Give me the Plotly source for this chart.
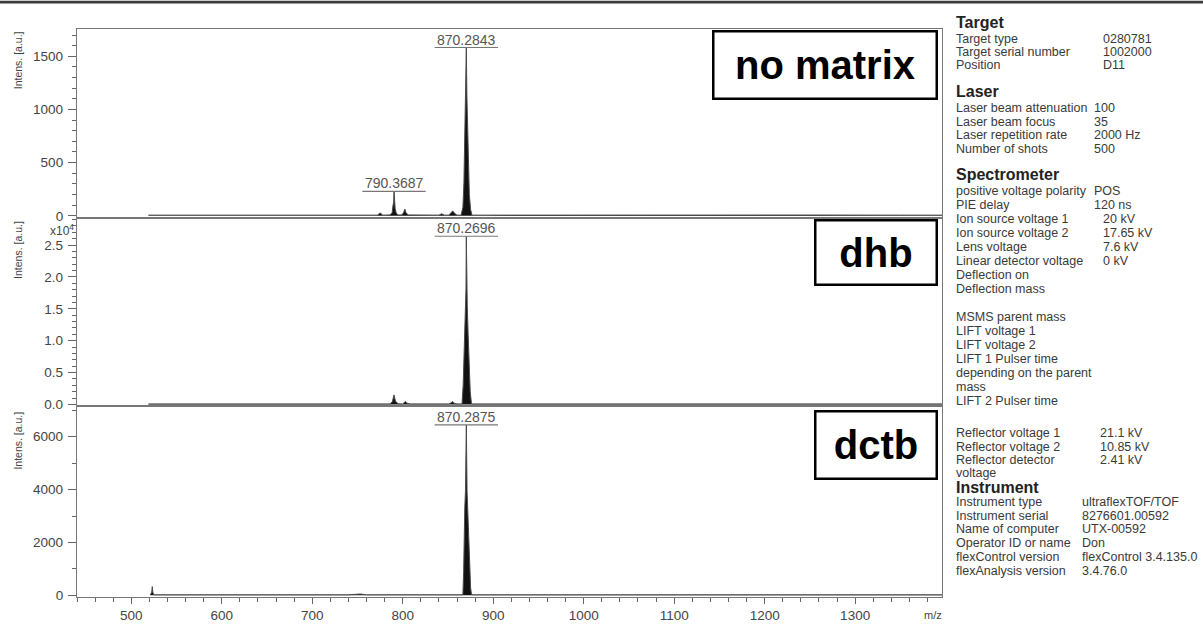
import plotly.graph_objects as go
from plotly.subplots import make_subplots

# ---------------- data ----------------
nomatrix_mz = [519, 560, 620, 680, 730, 760, 772, 775, 778, 786, 788.3, 789.3, 790.0, 790.37, 790.8,
               791.6, 792.8, 795, 799, 801, 802.3, 803.6, 806, 820, 840, 843, 846, 851, 853.5, 855.2,
               857, 860, 864.5, 866.5, 867.6, 868.3, 868.8, 869.6, 870.28, 870.9, 871.7, 872.4, 873.6,
               875, 876.5, 890, 950, 1050, 1150, 1250, 1350, 1396]
nomatrix_int = [6, 7, 6, 7, 6, 7, 6, 27, 6, 8, 30, 100, 130, 230, 120,
                70, 25, 8, 8, 30, 64, 30, 8, 7, 6, 18, 6, 6, 25, 46,
                25, 6, 6, 80, 300, 600, 830, 1130, 1583, 1130, 830, 500, 200,
                60, 6, 6, 7, 6, 6, 7, 6, 6]

dhb_mz = [519, 580, 650, 720, 770, 786, 788.5, 789.5, 790.3, 792, 795, 800, 802, 803, 804.5, 808,
          830, 851, 853.5, 855, 856.5, 860, 865.5, 866.8, 867.6, 868.3, 869.3, 869.9, 870.27, 870.7,
          871.3, 872.3, 873.4, 874.6, 876, 890, 950, 1050, 1150, 1250, 1350, 1396]
dhb_int = [80, 90, 80, 90, 80, 80, 400, 900, 1490, 500, 100, 80, 250, 460, 200, 80,
           80, 80, 250, 460, 200, 80, 80, 3000, 7000, 10900, 15500, 18100, 26380, 18100,
           15500, 10900, 6000, 2000, 80, 80, 90, 80, 80, 90, 80, 80]

dctb_mz = [521, 522.6, 523.2, 523.8, 525, 560, 620, 680, 740, 753, 760, 800, 840, 866.5, 867.3,
           867.8, 868.6, 869.3, 870.29, 871.1, 871.8, 872.8, 873.8, 875, 876, 900, 960, 1050,
           1150, 1250, 1350, 1396]
dctb_int = [20, 120, 330, 120, 20, 22, 20, 22, 20, 50, 20, 22, 20, 20, 900,
            2340, 3330, 3940, 6444, 3940, 3330, 2340, 1200, 300, 20, 20, 22, 20,
            20, 22, 20, 20]

nomatrix_labels = [870.2843, 790.3687]
dhb_labels = [870.2696]
dctb_labels = [870.2875]

panel_names = ["no matrix", "dhb", "dctb"]

x_ticks = [500, 600, 700, 800, 900, 1000, 1100, 1200, 1300]
y1_ticks = [0, 500, 1000, 1500]
y2_ticks = [0, 5000, 10000, 15000, 20000, 25000]
y2_text = ["0.0", "0.5", "1.0", "1.5", "2.0", "2.5"]
y3_ticks = [0, 2000, 4000, 6000]

target_labels = ["Target type", "Target serial number", "Position"]
target_values = ["0280781", "1002000", "D11"]
laser_labels = ["Laser beam attenuation", "Laser beam focus", "Laser repetition rate", "Number of shots"]
laser_values = ["100", "35", "2000 Hz", "500"]
spec_labels = ["positive voltage polarity", "PIE delay", "Ion source voltage 1", "Ion source voltage 2",
               "Lens voltage", "Linear detector voltage", "Deflection on", "Deflection mass", "",
               "MSMS parent mass", "LIFT voltage 1", "LIFT voltage 2", "LIFT 1 Pulser time",
               "depending on the parent", "mass", "LIFT 2 Pulser time"]
spec_values = ["POS", "120 ns", "20 kV", "17.65 kV", "7.6 kV", "0 kV", "", "", "",
               "", "", "", "", "", "", ""]
refl_labels = ["Reflector voltage 1", "Reflector voltage 2", "Reflector detector", "voltage"]
refl_values = ["21.1 kV", "10.85 kV", "2.41 kV", ""]
instr_labels = ["Instrument type", "Instrument serial", "Name of computer", "Operator ID or name",
                "flexControl version", "flexAnalysis version"]
instr_values = ["ultraflexTOF/TOF", "8276601.00592", "UTX-00592", "Don",
                "flexControl 3.4.135.0", "3.4.76.0"]

# ---------------- layout geometry ----------------
W, H = 1203, 635
L, R, T, B = 77, 942, 29, 610
FONT = "Liberation Sans, Arial, Helvetica, sans-serif"


def px(x):
    return (x - L) / (R - L)


def py(y):
    return (B - y) / (B - T)


fig = make_subplots(rows=3, cols=1, shared_xaxes=True, vertical_spacing=0,
                    row_heights=[193, 193, 195])

series = [(nomatrix_mz, nomatrix_int, nomatrix_labels),
          (dhb_mz, dhb_int, dhb_labels),
          (dctb_mz, dctb_int, dctb_labels)]

for i, (mz, inten, labs) in enumerate(series, start=1):
    fig.add_trace(go.Scatter(x=mz, y=inten, mode="lines",
                             line=dict(color="#4a4a4a", width=1),
                             fill="tozeroy", fillcolor="#111111",
                             hoverinfo="skip", showlegend=False), row=i, col=1)
    suffix = str(i) if i > 1 else ""
    for m in labs:
        top = max(v for xx, v in zip(mz, inten) if abs(xx - m) < 1.0)
        fig.add_annotation(x=m, y=top, xref="x" + suffix, yref="y" + suffix,
                           text=f"{m:.4f}", showarrow=False, xanchor="center", yanchor="bottom",
                           yshift=-2, font=dict(family=FONT, size=14, color="#555"))
        fig.add_shape(type="line", x0=m - 35, x1=m + 35, y0=top, y1=top,
                      xref="x" + suffix, yref="y" + suffix,
                      line=dict(color="#777", width=1.2))

axis_common = dict(showline=True, linecolor="#777", linewidth=1.3, mirror=True,
                   showgrid=False, zeroline=False)

for i in (1, 2, 3):
    fig.update_xaxes(range=[440, 1396], **axis_common, row=i, col=1)

fig.update_xaxes(ticks="", showticklabels=False, row=1, col=1)
fig.update_xaxes(ticks="", showticklabels=False, row=2, col=1)
fig.update_xaxes(tickvals=x_ticks, ticks="outside", ticklen=6, tickwidth=1.2, tickcolor="#666",
                 showticklabels=True,
                 tickfont=dict(family=FONT, size=13.5, color="#444"),
                 minor=dict(dtick=20, tick0=0, ticks="outside", ticklen=4, tickcolor="#666"),
                 row=3, col=1)

ycommon = dict(ticks="outside", ticklen=8, tickwidth=1.2, tickcolor="#666",
               ticklabelstandoff=2,
               tickfont=dict(family=FONT, size=13.5, color="#444"))
fig.update_yaxes(range=[-18, 1757], tickvals=y1_ticks, **axis_common, **ycommon,
                 minor=dict(dtick=100, tick0=0, ticks="outside", ticklen=4, tickcolor="#666"),
                 row=1, col=1)
fig.update_yaxes(range=[-307, 29294], tickvals=y2_ticks, ticktext=y2_text, **axis_common, **ycommon,
                 minor=dict(dtick=1000, tick0=0, ticks="outside", ticklen=4, tickcolor="#666"),
                 row=2, col=1)
fig.update_yaxes(range=[-63, 7146], tickvals=y3_ticks, **axis_common, **ycommon,
                 minor=dict(dtick=1000, tick0=0, ticks="outside", ticklen=4, tickcolor="#666"),
                 row=3, col=1)

anns = []


def txt(x, y, s, size=12.5, bold=False, color="#3a3a3a", anchor="left", angle=0):
    anns.append(dict(x=px(x), y=py(y), xref="paper", yref="paper", text=(f"<b>{s}</b>" if bold else s),
                     showarrow=False, xanchor=anchor, yanchor="middle", textangle=angle,
                     font=dict(family=FONT, size=size, color=color)))


# y axis titles
for yc in (61, 255, 450):
    txt(18, yc, "Intens. [a.u.]", size=10.5, color="#444", anchor="center", angle=-90)
txt(76, 235, "x10<sup>4</sup>", size=12, color="#444", anchor="right")
txt(944, 628, "m/z", size=11, color="#444", anchor="right")

# boxed panel names
boxes = [(825, 66, 221, 65), (876, 258, 119, 62), (876, 454.5, 119, 65)]
for name, (cx, cy, bw, bh) in zip(panel_names, boxes):
    anns.append(dict(x=px(cx), y=py(cy), xref="paper", yref="paper", text=f"<b>{name}</b>",
                     showarrow=False, xanchor="center", yanchor="middle", width=bw, height=bh,
                     bordercolor="#000", borderwidth=2.5, borderpad=0, bgcolor="white",
                     font=dict(family=FONT, size=40, color="#000")))

# right-hand acquisition info panel
LX = 954
txt(LX, 22.7, "Target", size=16, bold=True, color="#222")
for k, (a, b) in enumerate(zip(target_labels, target_values)):
    y = 39.3 + k * 13.4
    txt(LX, y, a)
    txt(1101, y, b)

txt(LX, 93.3, "Laser", size=16, bold=True, color="#222")
for k, (a, b) in enumerate(zip(laser_labels, laser_values)):
    y = 110 + k * 13.9
    txt(LX, y, a)
    txt(1092, y, b)

txt(LX, 178.3, "Spectrometer", size=16, bold=True, color="#222")
for k, (a, b) in enumerate(zip(spec_labels, spec_values)):
    y = 195 + k * 14.27
    if a:
        txt(LX, y, a)
    if b:
        txt(1092 if k < 2 else 1101, y, b)

for k, (a, b) in enumerate(zip(refl_labels, refl_values)):
    y = 442.7 + k * 13.6
    txt(LX, y, a)
    if b:
        txt(1098, y, b)

txt(LX, 498, "Instrument", size=16, bold=True, color="#222")
for k, (a, b) in enumerate(zip(instr_labels, instr_values)):
    y = 512.7 + k * 14.06
    txt(LX, y, a)
    txt(1080, y, b)

fig.update_layout(annotations=list(fig.layout.annotations) + anns)

# dark window border at the very top of the picture
fig.add_shape(type="rect", xref="paper", yref="paper",
              x0=px(0), x1=px(W), y0=py(3), y1=py(0),
              fillcolor="#3c3c3c", line=dict(width=0), layer="above")

fig.update_layout(width=W, height=H, margin=dict(l=L, r=W - R, t=T, b=H - B),
                  paper_bgcolor="white", plot_bgcolor="white", showlegend=False,
                  font=dict(family=FONT))

fig.write_html("out.html")
